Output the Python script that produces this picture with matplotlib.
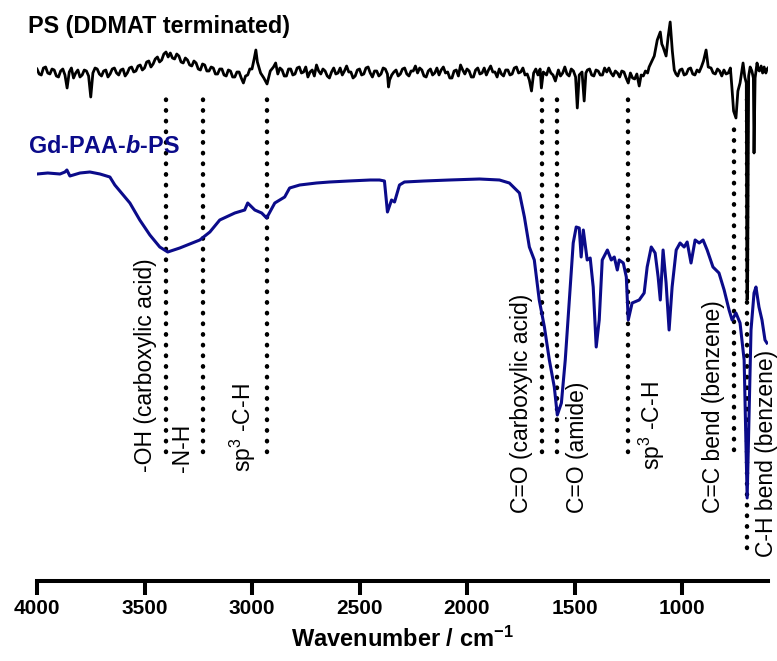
import matplotlib
matplotlib.use("Agg")
import matplotlib.pyplot as plt

plt.rcParams['font.family'] = ['Liberation Sans', 'DejaVu Sans']
plt.rcParams['mathtext.fontset'] = 'custom'
plt.rcParams['mathtext.rm'] = 'Liberation Sans'
plt.rcParams['mathtext.bf'] = 'Liberation Sans:bold'
plt.rcParams['mathtext.bfit'] = 'Liberation Sans:bold:italic'
plt.rcParams['mathtext.default'] = 'rm'

NAVY = '#0b0b8a'

# PS (DDMAT terminated) spectrum, offset transmittance (a.u.)
ps_wn = [4000, 3990, 3980, 3970, 3960, 3950, 3940, 3930, 3920, 3910, 3900, 3890, 3880, 3870, 3860,
         3850, 3840, 3830, 3820, 3810, 3800, 3790, 3780, 3770, 3760, 3750, 3740, 3730, 3720, 3710,
         3700, 3690, 3680, 3670, 3660, 3650, 3640, 3630, 3620, 3610, 3600, 3590, 3580, 3570, 3560,
         3550, 3540, 3530, 3520, 3510, 3500, 3490, 3480, 3470, 3460, 3450, 3440, 3430, 3420, 3410,
         3400, 3390, 3380, 3370, 3360, 3350, 3340, 3330, 3320, 3310, 3300, 3290, 3280, 3270, 3260,
         3250, 3240, 3230, 3220, 3210, 3200, 3190, 3180, 3170, 3160, 3150, 3140, 3130, 3120, 3110,
         3100, 3090, 3080, 3070, 3060, 3050, 3040, 3030, 3020, 3010, 3000, 2990, 2982, 2975, 2960,
         2945, 2930, 2915, 2900, 2890, 2880, 2870, 2860, 2850, 2840, 2830, 2820, 2810, 2800, 2790,
         2780, 2770, 2760, 2750, 2740, 2730, 2720, 2710, 2700, 2690, 2680, 2670, 2660, 2650, 2640,
         2630, 2620, 2610, 2600, 2590, 2580, 2570, 2560, 2550, 2540, 2530, 2520, 2510, 2500, 2490,
         2480, 2470, 2460, 2450, 2440, 2430, 2420, 2410, 2400, 2390, 2380, 2370, 2365, 2360, 2350,
         2340, 2330, 2320, 2310, 2300, 2290, 2280, 2270, 2260, 2250, 2240, 2230, 2220, 2210, 2200,
         2190, 2180, 2170, 2160, 2150, 2140, 2130, 2120, 2110, 2100, 2090, 2080, 2070, 2060, 2050,
         2040, 2030, 2020, 2010, 2000, 1990, 1980, 1970, 1960, 1950, 1940, 1930, 1920, 1910, 1900,
         1890, 1880, 1870, 1860, 1850, 1840, 1830, 1820, 1810, 1800, 1790, 1780, 1770, 1760, 1750,
         1740, 1730, 1720, 1710, 1700, 1690, 1680, 1670, 1660, 1654, 1645, 1630, 1620, 1610, 1600,
         1589, 1575, 1565, 1555, 1545, 1535, 1525, 1515, 1505, 1495, 1487, 1478, 1465, 1455, 1447,
         1440, 1430, 1420, 1410, 1400, 1390, 1380, 1370, 1360, 1350, 1340, 1330, 1320, 1310, 1300,
         1290, 1280, 1270, 1260, 1250, 1240, 1230, 1220, 1210, 1199, 1190, 1180, 1170, 1160, 1153,
         1140, 1129, 1115, 1101, 1094, 1088, 1074, 1064, 1055, 1045, 1036, 1028, 1020, 1010, 1000,
         990, 980, 970, 960, 950, 940, 930, 920, 910, 900, 888, 878, 865, 855, 845,
         835, 825, 815, 805, 795, 785, 775, 768, 760, 749, 740, 730, 716, 708, 701,
         698, 695, 690, 683, 675, 668, 665, 660, 651, 645, 640, 632, 625, 618, 610,
         604, 600]
ps_val = [512, 507, 506, 513, 514, 508, 507, 512, 511, 505, 504, 510, 512, 506, 493,
          509, 513, 503, 508, 511, 504, 506, 511, 510, 505, 484, 508, 513, 512, 507,
          505, 510, 511, 504, 507, 512, 513, 508, 506, 511, 512, 505, 508, 513, 514,
          509, 510, 515, 516, 511, 513, 519, 520, 514, 517, 522, 524, 519, 521, 527,
          529, 524, 528, 523, 522, 527, 525, 519, 518, 523, 521, 516, 515, 520, 518,
          512, 511, 517, 516, 510, 510, 514, 513, 507, 507, 512, 512, 506, 505, 511,
          510, 504, 504, 509, 509, 503, 498, 505, 506, 512, 512, 522, 531, 519, 508,
          503, 497, 510, 514, 518, 507, 513, 511, 505, 505, 512, 512, 506, 507, 513,
          514, 508, 509, 514, 504, 509, 511, 505, 516, 510, 507, 512, 510, 505, 503,
          509, 513, 507, 508, 513, 506, 510, 515, 509, 509, 503, 505, 511, 512, 506,
          507, 513, 514, 508, 504, 510, 510, 505, 507, 513, 512, 507, 494, 501, 506,
          509, 511, 505, 507, 512, 513, 507, 505, 510, 510, 515, 508, 513, 511, 505,
          504, 510, 512, 506, 508, 513, 506, 511, 514, 508, 509, 503, 503, 510, 511,
          505, 516, 511, 507, 512, 510, 504, 504, 511, 513, 507, 508, 513, 506, 511,
          515, 509, 509, 504, 512, 507, 505, 511, 511, 506, 507, 513, 514, 508, 509,
          513, 506, 507, 501, 490, 508, 512, 506, 512, 493, 509, 506, 513, 508, 506,
          500, 511, 505, 508, 514, 507, 505, 512, 510, 504, 473, 506, 509, 480, 508,
          511, 512, 506, 505, 511, 510, 506, 506, 513, 509, 513, 508, 505, 510, 508,
          504, 510, 509, 503, 498, 508, 503, 502, 507, 495, 506, 505, 510, 508, 514,
          520, 525, 541, 549, 537, 534, 525, 545, 559, 530, 511, 507, 505, 511, 512,
          506, 507, 512, 513, 507, 506, 511, 509, 514, 520, 531, 514, 513, 508, 507,
          512, 510, 505, 511, 507, 508, 513, 494, 470, 463, 490, 498, 518, 504, 498,
          281, 283, 505, 514, 510, 503, 428, 503, 518, 511, 510, 515, 508, 514, 508,
          512, 513]

# Gd-PAA-b-PS spectrum, offset transmittance (a.u.)
gd_wn = [4000, 3950, 3893, 3870, 3861, 3847, 3800, 3754, 3707, 3661, 3638, 3568, 3522, 3475, 3429,
         3392, 3336, 3243, 3196, 3150, 3080, 3034, 3020, 2987, 2955, 2932, 2894, 2848, 2825, 2778,
         2700, 2639, 2550, 2450, 2407, 2384, 2370, 2351, 2337, 2314, 2291, 2200, 2082, 1942, 1849,
         1803, 1756, 1733, 1710, 1687, 1664, 1640, 1617, 1594, 1580, 1561, 1543, 1524, 1506, 1492,
         1478, 1469, 1459, 1441, 1427, 1413, 1399, 1385, 1371, 1347, 1329, 1315, 1301, 1292, 1273,
         1259, 1250, 1232, 1199, 1176, 1162, 1143, 1125, 1111, 1101, 1088, 1074, 1060, 1046, 1027,
         1009, 990, 976, 958, 939, 920, 902, 883, 856, 828, 804, 781, 767, 749, 730,
         711, 697, 679, 665, 656, 642, 628, 614, 605]
gd_val = [407, 408, 407, 409, 411, 405, 408, 409, 407, 404, 396, 378, 361, 346, 334,
          329, 333, 341, 349, 361, 368, 371, 378, 371, 368, 363, 378, 384, 393, 396,
          398, 399, 400, 401, 401, 400, 369, 381, 379, 396, 399, 400, 401, 402, 401,
          398, 388, 364, 334, 321, 281, 254, 221, 194, 166, 178, 221, 281, 338, 354,
          353, 324, 351, 321, 323, 294, 234, 261, 321, 331, 321, 324, 311, 321, 318,
          304, 261, 278, 281, 288, 314, 334, 328, 304, 281, 331, 298, 251, 294, 331,
          338, 334, 339, 318, 341, 338, 341, 331, 314, 308, 291, 271, 261, 268, 258,
          221, 83, 251, 288, 294, 274, 261, 241, 238]

# band assignments: wavenumber, label, side of line, line top, line bottom, label bottom
band_wn = [3400, 3230, 2930, 1650, 1580, 1250, 760, 697]
band_label = ['-OH (carboxylic acid)', '-N-H', 'sp$^3$ -C-H', 'C=O (carboxylic acid)',
              'C=O (amide)', 'sp$^3$ -C-H', 'C=C bend (benzene)', 'C-H bend (benzene)']
band_side = ['left', 'left', 'left', 'left', 'right', 'right', 'left', 'right']
band_top = [491, 491, 491, 491, 491, 491, 456, 491]
band_bottom = [129, 129, 129, 129, 129, 129, 131, 33]
label_bottom = [109, 109, 109, 68, 68, 111, 68, 24]

xticks = [4000, 3500, 3000, 2500, 2000, 1500, 1000]

fig = plt.figure(figsize=(7.77, 6.61), dpi=100)
ax = fig.add_axes([37 / 777, 80 / 661, 731 / 777, 581 / 661])

for wn, lab, side, top, bot, lb in zip(band_wn, band_label, band_side, band_top,
                                       band_bottom, label_bottom):
    ax.plot([wn, wn], [bot, top], color='black', lw=3.2, linestyle=(0, (0.1, 2.3)),
            dash_capstyle='round', zorder=1)
    dx = -6.5 if side == 'left' else 6.0
    ax.annotate(lab, xy=(wn, lb), xytext=(dx, 0), textcoords='offset points',
                rotation=90, ha='right' if side == 'left' else 'left', va='bottom',
                fontsize=16.5, color='black')

ax.plot(ps_wn, ps_val, color='black', lw=2.0, zorder=3)
ax.plot(gd_wn, gd_val, color=NAVY, lw=2.2, zorder=2)

ax.set_xlim(4000, 600)
ax.set_ylim(0, 581)
ax.set_xticks(xticks)
ax.set_xticklabels([str(t) for t in xticks], fontweight='bold', fontsize=15)
ax.set_yticks([])
for s in ['left', 'right', 'top']:
    ax.spines[s].set_visible(False)
ax.spines['bottom'].set_linewidth(2.9)
ax.tick_params(axis='x', direction='out', length=10, width=2.9, pad=3)
ax.set_xlabel(r'Wavenumber / cm$^{\mathbf{-1}}$', fontweight='bold', fontsize=17, labelpad=6)
ax.patch.set_alpha(0)

fig.text(28 / 777, 1 - 33 / 661, 'PS (DDMAT terminated)', fontsize=16.8,
         fontweight='bold', va='baseline', ha='left')
fig.text(28 / 777, 1 - 153 / 661, r'Gd-PAA-$\mathbfit{b}$-PS', fontsize=16.8,
         fontweight='bold', va='baseline', ha='left', color=NAVY)

fig.savefig('out.png', dpi=100)
